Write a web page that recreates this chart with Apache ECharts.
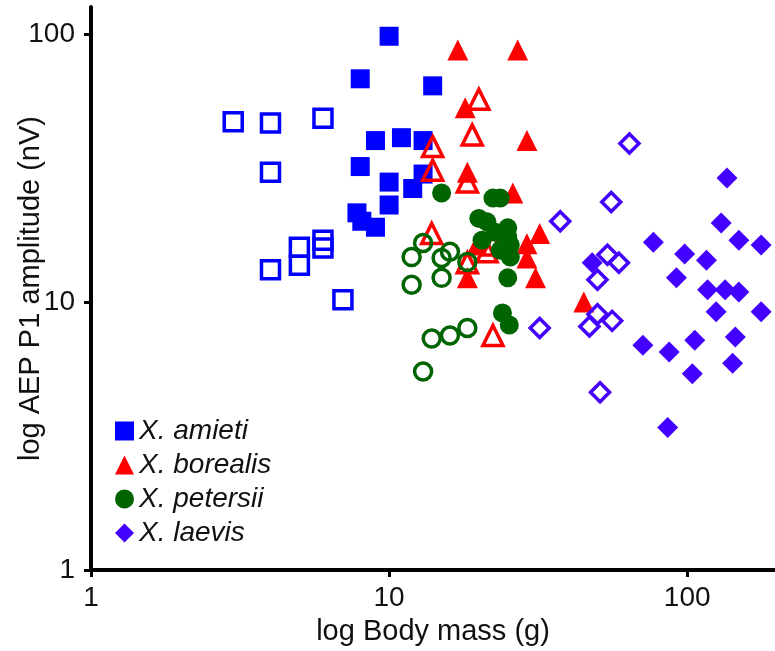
<!DOCTYPE html>
<html>
<head>
<meta charset="utf-8">
<script src="https://cdn.jsdelivr.net/npm/echarts@6/dist/echarts.min.js"></script>
<style>
  html, body { margin: 0; padding: 0; background: #fff; }
  #chart { width: 775px; height: 651px; }
</style>
</head>
<body>
<div id="chart"></div>
<script>
// [body mass (g), AEP P1 amplitude (nV)]
const amietiFilled = [
  [10, 98], [8, 68], [14, 64], [9, 40], [11, 41], [13, 40], [8, 32], [10, 28],
  [12, 26.5], [13, 30], [10, 23], [7.8, 21.5], [8.1, 20], [9, 19]
];
const amietiOpen = [
  [3, 47], [4, 46.5], [6, 48.5], [4, 30.5], [5, 16], [5, 13.7], [4, 13.2],
  [6, 17], [6, 15.9], [7, 10.2]
];
const borealisFilled = [
  [17, 87], [27, 87], [18, 53], [29, 40], [18.3, 30.5], [26, 25.5], [32, 18],
  [29, 16.5], [29, 14.6], [31, 12.3], [18.3, 12.3], [45, 10], [19.7, 16.3]
];
const borealisOpen = [
  [20, 57], [19, 42], [14, 38], [14, 31], [18.3, 28], [13.9, 18], [22.3, 16.3],
  [21.3, 15.4], [18.3, 14], [22.3, 7.5]
];
const petersiiFilled = [
  [15, 25.5], [22.3, 24.4], [23.6, 24.4], [20, 20.5], [21.3, 19.9], [25, 18.9],
  [25, 17.5], [25.5, 16.3], [25.5, 14.7], [20.5, 17], [22.7, 18.2], [23.6, 15.6],
  [25, 12.3], [24, 9.1], [25.3, 8.2]
];
const petersiiOpen = [
  [13, 16.6], [11.9, 14.7], [15, 14.6], [16, 15.4], [18.3, 14.1], [15, 12.3],
  [11.9, 11.6], [13.9, 7.3], [16, 7.5], [18.3, 8], [13, 5.5]
];
const laevisFilled = [
  [136, 29], [130, 19.7], [149, 17], [177, 16.3], [77, 16.7], [98, 15.1],
  [116, 14.3], [92, 12.3], [48, 14], [117, 11.1], [134, 11.1], [149, 10.9],
  [125, 9.2], [177, 9.2], [71, 6.9], [87, 6.5], [106, 7.2], [145, 7.4],
  [142, 5.9], [104, 5.4], [86, 3.4]
];
const laevisOpen = [
  [64, 39], [55.6, 23.6], [37.5, 20], [54, 15], [59, 14], [50, 12.1], [50, 9],
  [47, 8.1], [56, 8.5], [32, 8], [51, 4.6]
];

const species = ['X. amieti', 'X. borealis', 'X. petersii', 'X. laevis'];
const decadeTicks = [1, 10, 100];

const colors = ['#0000ff', '#ff0000', '#006400', '#4400ff'];

const chart = echarts.init(document.getElementById('chart'));

const filledSeries = (name, data, symbol, size, color) => ({
  name: name,
  type: 'scatter',
  data: data,
  symbol: symbol,
  symbolSize: size,
  itemStyle: { color: color, opacity: 1 }
});

const openSeries = (name, data, symbol, size, color) => ({
  name: name,
  type: 'scatter',
  data: data,
  symbol: symbol,
  symbolSize: size,
  itemStyle: {
    color: 'rgba(255,255,255,0)',
    borderColor: color,
    borderWidth: 3.5,
    opacity: 1
  }
});

const tickLabel = (v) => {
  const r = Math.round(v);
  return decadeTicks.indexOf(r) >= 0 && Math.abs(v - r) < 1e-6 ? String(r) : '';
};

chart.setOption({
  animation: false,
  backgroundColor: '#fff',
  textStyle: { fontFamily: 'Liberation Sans, Arial, sans-serif' },
  grid: { left: 91, right: 0, top: 7, bottom: 81, containLabel: false, outerBoundsMode: 'none' },
  legend: {
    data: species,
    orient: 'vertical',
    left: 110,
    top: 412,
    itemWidth: 19,
    itemHeight: 19,
    itemGap: 6,
    textStyle: {
      fontSize: 28,
      fontStyle: 'italic',
      color: '#111',
      fontFamily: 'Liberation Sans, Arial, sans-serif'
    }
  },
  xAxis: {
    type: 'log',
    logBase: 10,
    min: 1,
    max: 197,
    name: 'log Body mass (g)',
    nameLocation: 'middle',
    nameGap: 47,
    nameMoveOverlap: false,
    nameTextStyle: { fontSize: 29, color: '#111' },
    axisLine: { lineStyle: { color: '#000', width: 4 } },
    axisTick: { inside: false, length: 7, lineStyle: { color: '#000', width: 3 } },
    axisLabel: { fontSize: 28, color: '#111', margin: 14, formatter: tickLabel, showMaxLabel: false },
    splitLine: { show: false },
    minorTick: { show: false }
  },
  yAxis: {
    type: 'log',
    logBase: 10,
    min: 1,
    max: 126,
    name: 'log AEP P1 amplitude (nV)',
    nameLocation: 'middle',
    nameGap: 46,
    nameMoveOverlap: false,
    nameTextStyle: { fontSize: 29, color: '#111' },
    axisLine: { lineStyle: { color: '#000', width: 4 } },
    axisTick: { inside: false, length: 7, lineStyle: { color: '#000', width: 3 } },
    axisLabel: { fontSize: 28, color: '#111', margin: 16, formatter: tickLabel, showMaxLabel: false },
    splitLine: { show: false },
    minorTick: { show: false }
  },
  series: [
    filledSeries(species[0], amietiFilled, 'rect', 19, colors[0]),
    openSeries(species[0], amietiOpen, 'rect', 18, colors[0]),
    filledSeries(species[1], borealisFilled, 'triangle', 21, colors[1]),
    openSeries(species[1], borealisOpen, 'triangle', 20, colors[1]),
    filledSeries(species[2], petersiiFilled, 'circle', 19, colors[2]),
    openSeries(species[2], petersiiOpen, 'circle', 17, colors[2]),
    filledSeries(species[3], laevisFilled, 'diamond', 21, colors[3]),
    openSeries(species[3], laevisOpen, 'diamond', 19, colors[3])
  ]
});
</script>
</body>
</html>
